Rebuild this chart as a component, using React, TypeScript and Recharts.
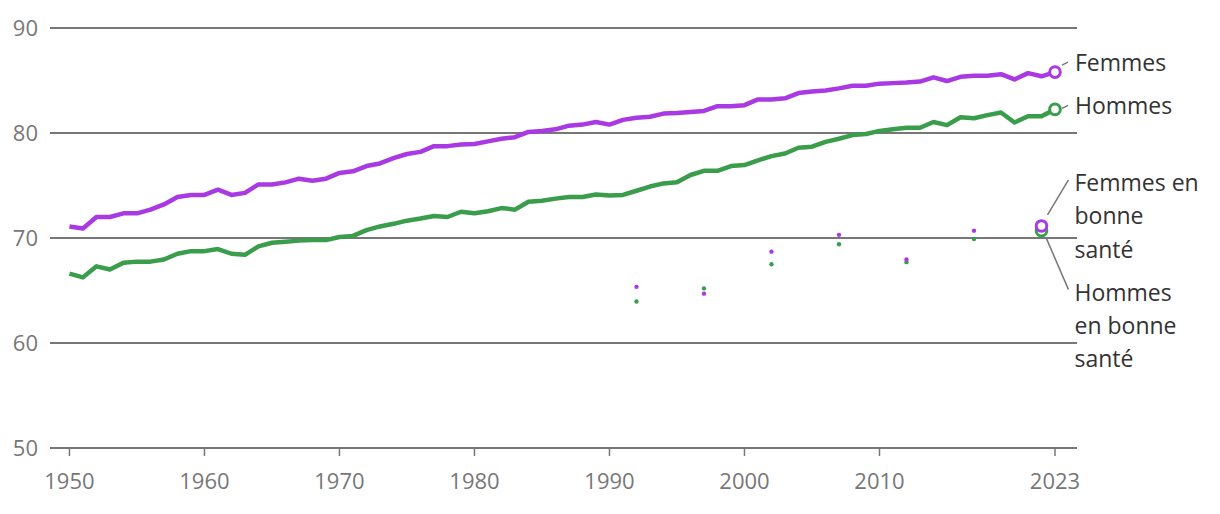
import React from 'react';
import { ComposedChart, Line, Scatter, XAxis, YAxis, CartesianGrid } from 'recharts';

const years = [
  1950, 1951, 1952, 1953, 1954, 1955, 1956, 1957, 1958, 1959,
  1960, 1961, 1962, 1963, 1964, 1965, 1966, 1967, 1968, 1969,
  1970, 1971, 1972, 1973, 1974, 1975, 1976, 1977, 1978, 1979,
  1980, 1981, 1982, 1983, 1984, 1985, 1986, 1987, 1988, 1989,
  1990, 1991, 1992, 1993, 1994, 1995, 1996, 1997, 1998, 1999,
  2000, 2001, 2002, 2003, 2004, 2005, 2006, 2007, 2008, 2009,
  2010, 2011, 2012, 2013, 2014, 2015, 2016, 2017, 2018, 2019,
  2020, 2021, 2022, 2023,
];

const femmes = [
  71.1, 70.9, 72.0, 72.0, 72.35, 72.35, 72.7, 73.2, 73.9, 74.1,
  74.1, 74.6, 74.1, 74.3, 75.1, 75.1, 75.3, 75.65, 75.45, 75.65,
  76.2, 76.35, 76.85, 77.1, 77.6, 78.0, 78.2, 78.75, 78.75, 78.9,
  78.95, 79.2, 79.45, 79.6, 80.1, 80.2, 80.35, 80.7, 80.8, 81.05,
  80.8, 81.25, 81.45, 81.55, 81.85, 81.9, 82.0, 82.1, 82.55, 82.55,
  82.65, 83.2, 83.2, 83.3, 83.8, 83.95, 84.05, 84.25, 84.5, 84.5,
  84.7, 84.75, 84.8, 84.9, 85.3, 84.95, 85.35, 85.45, 85.45, 85.6,
  85.1, 85.7, 85.4, 85.8,
];

const hommes = [
  66.6, 66.25, 67.3, 67.0, 67.65, 67.75, 67.75, 67.95, 68.5, 68.75,
  68.75, 68.95, 68.5, 68.4, 69.2, 69.55, 69.65, 69.75, 69.8, 69.8,
  70.1, 70.2, 70.75, 71.1, 71.35, 71.65, 71.85, 72.1, 72.0, 72.5,
  72.35, 72.55, 72.85, 72.7, 73.45, 73.55, 73.75, 73.9, 73.9, 74.15,
  74.05, 74.1, 74.5, 74.9, 75.2, 75.3, 76.0, 76.4, 76.4, 76.85,
  76.95, 77.4, 77.8, 78.05, 78.6, 78.7, 79.15, 79.45, 79.8, 79.9,
  80.2, 80.35, 80.5, 80.5, 81.05, 80.75, 81.5, 81.4, 81.7, 81.95,
  81.0, 81.6, 81.6, 82.25,
];

const santeYears = [1992, 1997, 2002, 2007, 2012, 2017, 2022];
const femmesSante = [65.35, 64.7, 68.7, 70.3, 67.95, 70.7, 71.15];
const hommesSante = [63.95, 65.2, 67.5, 69.4, 67.7, 69.9, 70.7];

const xTicks = [1950, 1960, 1970, 1980, 1990, 2000, 2010, 2023];
const yTicks = [50, 60, 70, 80, 90];

const PURPLE = '#a93ae3';
const GREEN = '#3a9d4c';
const GRID = '#777777';
const TEXT = '#333333';
const FONT = '"Open Sans", "Noto Sans", sans-serif';

const data = years.map((year, i) => ({ year, femmes: femmes[i], hommes: hommes[i] }));
const santeF = santeYears.map((year, i) => ({ year, v: femmesSante[i] }));
const santeH = santeYears.map((year, i) => ({ year, v: hommesSante[i] }));

const labelStyle = { fontFamily: FONT, fontSize: 23, fill: TEXT };

// end-of-line circle + short connector + series name
const endDot = (color: string, label: string, lift: number) => (props: any) => {
  const { cx, cy, index } = props;
  if (index !== data.length - 1) return <g key={`d${index}`} />;
  return (
    <g key={`d${index}`}>
      <line x1={cx + 7} y1={cy - lift + 3} x2={cx + 13} y2={cy - lift} stroke={GRID} strokeWidth={1.5} />
      <circle cx={cx} cy={cy} r={5.3} fill="#fff" stroke={color} strokeWidth={3} />
      <text x={cx + 20} y={cy - lift} dominantBaseline="central" style={labelStyle}>{label}</text>
    </g>
  );
};

const santeShape = (color: string, lines: string[], up: boolean) => (props: any) => {
  const { cx, cy, payload } = props;
  if (payload.year !== santeYears[santeYears.length - 1]) {
    return <circle cx={cx} cy={cy} r={2.2} fill={color} />;
  }
  const tx = cx + 33;
  const first = up ? cy - 44 : cy + 61;
  return (
    <g>
      {up ? (
        <line x1={cx + 6} y1={cy - 11} x2={cx + 27} y2={cy - 46} stroke={GRID} strokeWidth={1.5} />
      ) : (
        <line x1={cx + 5} y1={cy + 8} x2={cx + 27} y2={cy + 59} stroke={GRID} strokeWidth={1.5} />
      )}
      <circle cx={cx} cy={cy} r={5.3} fill="#fff" stroke={color} strokeWidth={3} />
      {lines.map((t, i) => (
        <text key={t + i} x={tx} y={first + i * 33.3} dominantBaseline="central" style={labelStyle}>{t}</text>
      ))}
    </g>
  );
};

export default function App() {
  return (
    <div style={{ position: 'absolute', left: 0, top: 0, width: 1220, height: 514, background: '#fff' }}>
      <ComposedChart
        width={1220}
        height={514}
        data={data}
        margin={{ top: 28, right: 143, left: 0, bottom: 26 }}
        style={{ overflow: 'visible' }}
      >
        <CartesianGrid horizontal vertical={false} stroke={GRID} strokeWidth={2} />
        <XAxis
          type="number"
          dataKey="year"
          domain={[1948.56, 2024.63]}
          ticks={xTicks}
          interval={0}
          height={40}
          axisLine={{ stroke: GRID, strokeWidth: 2 }}
          tickLine={{ stroke: GRID, strokeWidth: 1.5 }}
          tickSize={8}
          tickMargin={17}
          tick={{ fill: GRID, fontSize: 22, fontFamily: FONT }}
        />
        <YAxis
          type="number"
          domain={[50, 90]}
          ticks={yTicks}
          width={50}
          axisLine={false}
          tickLine={false}
          tickSize={6}
          tickMargin={6}
          tick={{ fill: GRID, fontSize: 22, fontFamily: FONT }}
        />
        <Line
          dataKey="femmes"
          type="linear"
          stroke={PURPLE}
          strokeWidth={4.5}
          strokeLinejoin="round"
          dot={endDot(PURPLE, 'Femmes', 10)}
          activeDot={false}
          isAnimationActive={false}
        />
        <Line
          dataKey="hommes"
          type="linear"
          stroke={GREEN}
          strokeWidth={4.5}
          strokeLinejoin="round"
          dot={endDot(GREEN, 'Hommes', 4)}
          activeDot={false}
          isAnimationActive={false}
        />
        <Scatter
          data={santeH}
          dataKey="v"
          shape={santeShape(GREEN, ['Hommes', 'en bonne', 'santé'], false)}
          isAnimationActive={false}
        />
        <Scatter
          data={santeF}
          dataKey="v"
          shape={santeShape(PURPLE, ['Femmes en', 'bonne', 'santé'], true)}
          isAnimationActive={false}
        />
      </ComposedChart>
    </div>
  );
}
